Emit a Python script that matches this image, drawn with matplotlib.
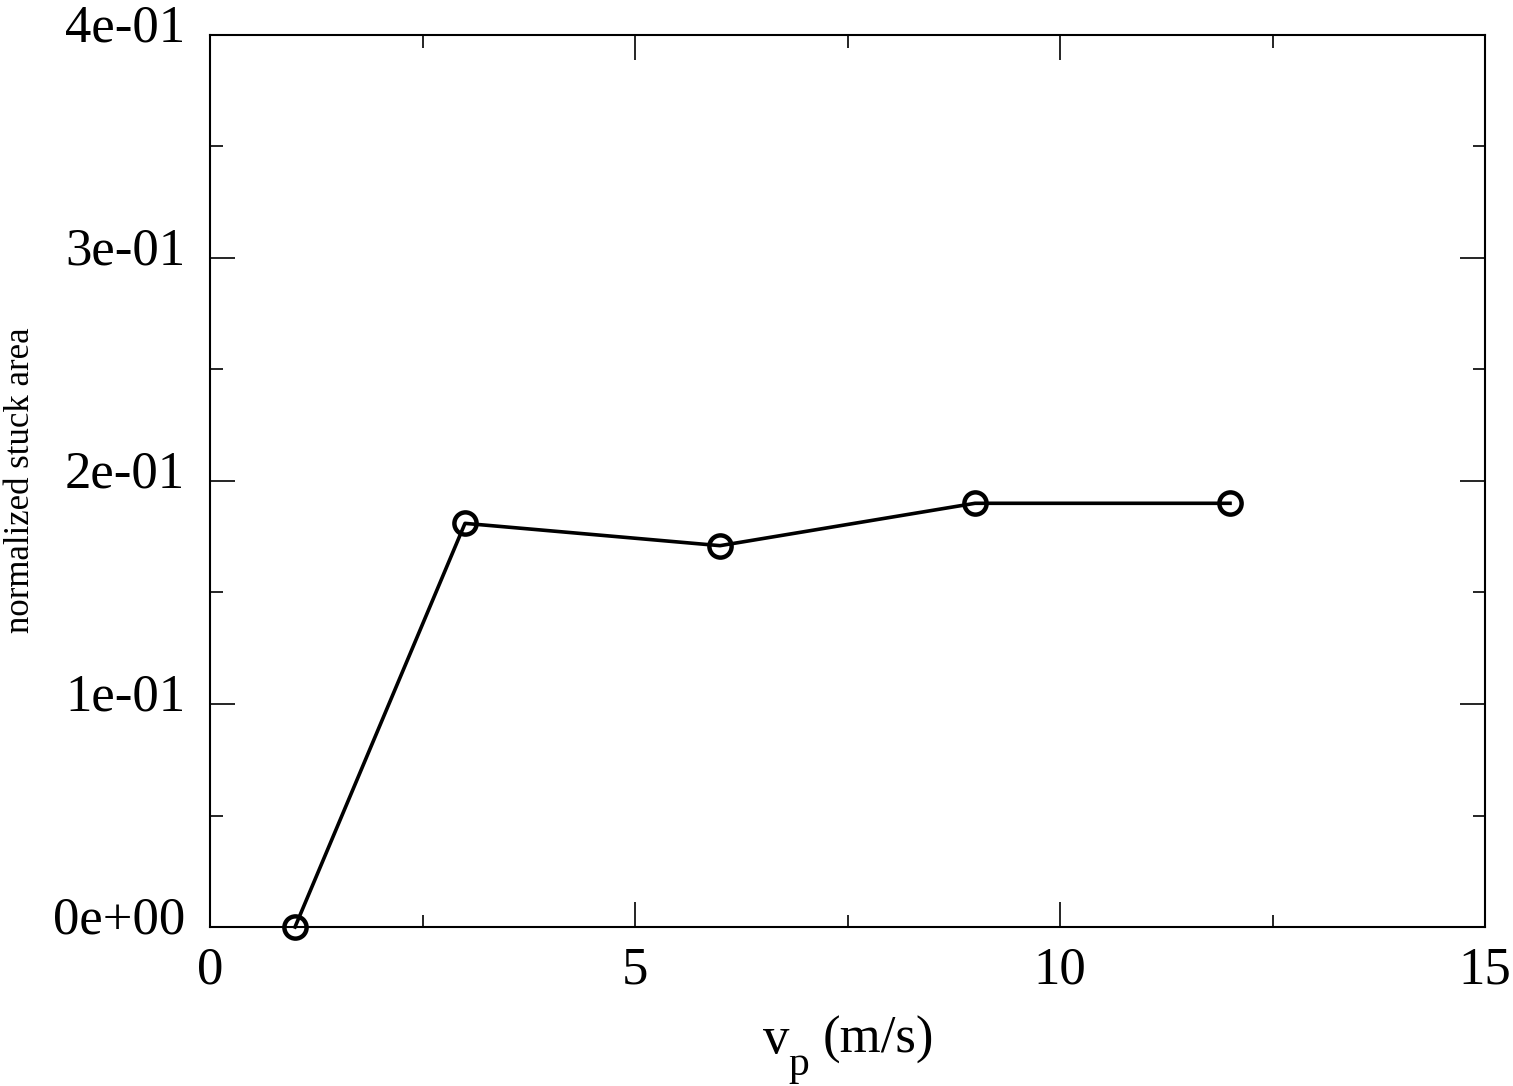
import matplotlib
matplotlib.use("Agg")
import matplotlib.pyplot as plt
from matplotlib.ticker import MultipleLocator, FormatStrFormatter
from matplotlib.transforms import ScaledTranslation

# speed (m/s) vs normalized stuck area
vp = [1, 3, 6, 9, 12]
stuck = [0.0, 0.181, 0.171, 0.190, 0.190]

plt.rcParams['font.family'] = ['Liberation Serif', 'DejaVu Serif']

fig = plt.figure(figsize=(15.13, 10.86), dpi=100)
ax = fig.add_axes([0.1388, 0.1464, 0.8427, 0.8214])

ax.plot(vp, stuck, color='black', lw=2.6, marker='o', ms=16,
        mfc='none', mec='black', mew=3.2, clip_on=False)

ax.set_xlim(0, 15)
ax.set_ylim(0, 0.4)
ax.xaxis.set_major_locator(MultipleLocator(5))
ax.xaxis.set_minor_locator(MultipleLocator(2.5))
ax.yaxis.set_major_locator(MultipleLocator(0.1))
ax.yaxis.set_minor_locator(MultipleLocator(0.05))
ax.yaxis.set_major_formatter(FormatStrFormatter('%.0e'))

ax.tick_params(which='both', direction='in', top=True, right=True, width=1.2)
ax.tick_params(which='major', length=18, labelsize=38)
ax.tick_params(axis='y', which='major', pad=18)
ax.tick_params(axis='x', which='major', pad=14)
ax.tick_params(which='minor', length=9)
for s in ax.spines.values():
    s.set_linewidth(1.5)

# y label placed by hand so it stays inside the canvas
fig.text(21 / 1513, 1 - 480 / 1086, 'normalized stuck area', fontsize=25,
         rotation=90, ha='center', va='center')

# x label drawn in pieces: gnuplot-style subscript sits well below
fig.text(0.5043, 1 - 1053 / 1086, 'v', fontsize=38, ha='left', va='baseline')
fig.text(0.5208, 1 - 1075 / 1086, 'p', fontsize=30, ha='left', va='baseline')
fig.text(0.5440, 1 - 1053 / 1086, '(m/s)', fontsize=38, ha='left', va='baseline')

fig.canvas.draw()
up = ScaledTranslation(0, 12 / 100, fig.dpi_scale_trans)
for t in ax.yaxis.get_major_ticks():
    t.label1.set_transform(t.label1.get_transform() + up)

fig.savefig('out.png', dpi=100)
